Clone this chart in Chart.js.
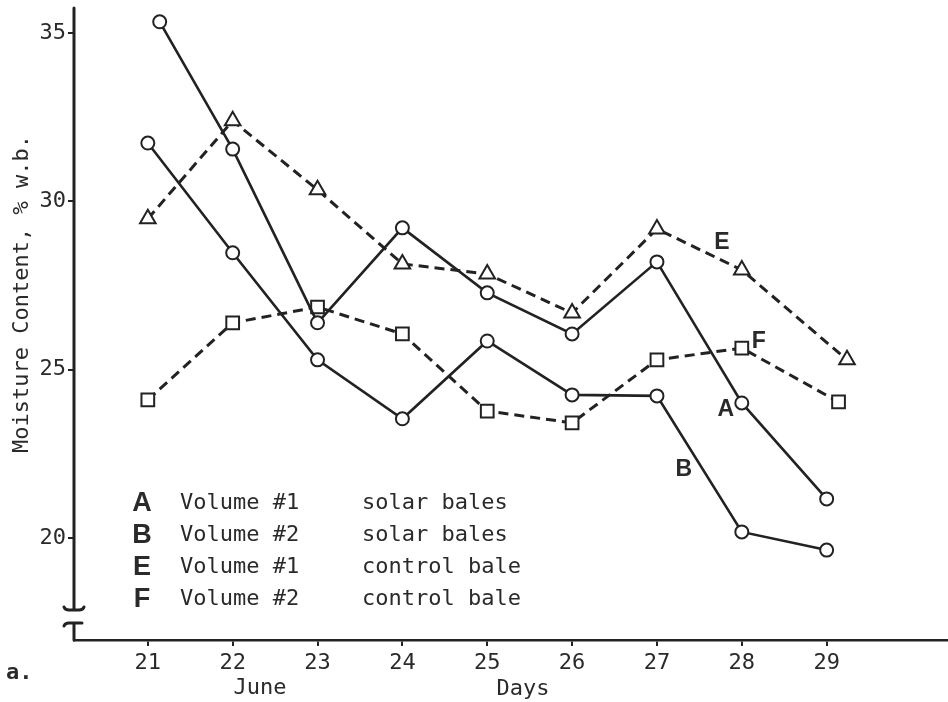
<!DOCTYPE html>
<html>
<head>
<meta charset="utf-8">
<title>Moisture Content, % w.b.</title>
<script src="https://cdn.jsdelivr.net/npm/chart.js@4.4.0/dist/chart.umd.min.js"></script>
<style>
  html, body { margin: 0; padding: 0; background: #fff; }
  canvas { display: block; }
</style>
</head>
<body>
<canvas id="moistureChart" width="948" height="702"></canvas>
<script>
// June days (x) for each curve
var days  = [21, 22, 23, 24, 25, 26, 27, 28, 29];
var daysA = [21.14, 22, 23, 24, 25, 26, 27, 28, 29];
var daysE = [21, 22, 23, 24, 25, 26, 27, 28, 29.24];
var daysF = [21, 22, 23, 24, 25, 26, 27, 28, 29.14];

// moisture content, % w.b.
var solarVol1   = [35.33, 31.55, 26.39, 29.21, 27.28, 26.06, 28.20, 24.01, 21.16]; // A
var solarVol2   = [31.73, 28.47, 25.29, 23.54, 25.85, 24.25, 24.22, 20.18, 19.64]; // B
var controlVol1 = [29.48, 32.39, 30.34, 28.14, 27.84, 26.68, 29.18, 27.96, 25.29]; // E
var controlVol2 = [24.10, 26.39, 26.86, 26.06, 23.77, 23.42, 25.29, 25.64, 24.04]; // F

var xTicks = days;
var yTicks = [20, 25, 30, 35];

var legendLetters = ['A', 'B', 'E', 'F'];
var legendVolumes = ['Volume #1', 'Volume #2', 'Volume #1', 'Volume #2'];
var legendBales   = ['solar bales', 'solar bales', 'control bale', 'control bale'];

var ink = '#222';
var mono = 'DejaVu Sans Mono';

function points(xs, ys) {
    return ys.map(function(v, i) { return {x: xs[i], y: v}; });
}

/**
 *  Letters written next to the curves: dataset, point, offset.
 */
var curveTags = [
    {text: 'A', ds: 0, pt: 7, dx: -16, dy: 7},
    {text: 'B', ds: 1, pt: 7, dx: -58, dy: -62},
    {text: 'E', ds: 2, pt: 7, dx: -20, dy: -27},
    {text: 'F', ds: 3, pt: 7, dx: 17, dy: -6}
];

/**
 *  Draws the broken y axis, the titles, the key and the curve letters.
 */
var paperPlugin = {
    id: 'paper',
    beforeDraw: function(chart) {
        var ctx = chart.ctx;
        ctx.save();
        ctx.fillStyle = '#fff';
        ctx.fillRect(0, 0, chart.width, chart.height);
        ctx.restore();
    },
    afterDraw: function(chart) {
        var ctx = chart.ctx;
        var area = chart.chartArea;
        var x = area.left;
        var b1 = area.bottom - 30;
        var b2 = area.bottom - 17;
        ctx.save();
        ctx.strokeStyle = ink;
        ctx.lineWidth = 3;
        ctx.lineCap = 'round';
        // upper part of the y axis with its break foot
        ctx.beginPath();
        ctx.moveTo(x, area.top);
        ctx.lineTo(x, b1);
        ctx.moveTo(x - 10, b1 - 3);
        ctx.quadraticCurveTo(x - 9, b1, x - 5, b1);
        ctx.lineTo(x + 5, b1);
        ctx.quadraticCurveTo(x + 9, b1, x + 10, b1 - 3);
        ctx.stroke();
        // lower stub down to the x axis
        ctx.beginPath();
        ctx.moveTo(x - 10, b2 + 3);
        ctx.quadraticCurveTo(x - 9, b2, x - 5, b2);
        ctx.lineTo(x + 8, b2);
        ctx.moveTo(x, b2);
        ctx.lineTo(x, area.bottom);
        ctx.stroke();

        ctx.fillStyle = '#2a2a2a';
        ctx.font = '22px "' + mono + '"';
        ctx.textBaseline = 'middle';

        // y title
        ctx.save();
        ctx.translate(22, 294);
        ctx.rotate(-Math.PI / 2);
        ctx.textAlign = 'center';
        ctx.fillText('Moisture Content, % w.b.', 0, 0);
        ctx.restore();

        // x titles
        ctx.textAlign = 'center';
        ctx.fillText('June', 260, 688);
        ctx.fillText('Days', 523, 689);
        ctx.textAlign = 'left';
        ctx.font = 'bold 22px "' + mono + '"';
        ctx.fillText('a.', 6, 673);

        // key
        for (var i = 0; i < legendLetters.length; i++) {
            var y = 503 + i * 32;
            ctx.font = 'bold 27px "Liberation Sans"';
            ctx.textAlign = 'center';
            ctx.fillText(legendLetters[i], 142, y + 1);
            ctx.font = '22px "' + mono + '"';
            ctx.textAlign = 'left';
            ctx.fillText(legendVolumes[i], 180, y);
            ctx.fillText(legendBales[i], 362, y);
        }

        // curve letters
        ctx.font = 'bold 23px "Liberation Sans"';
        ctx.textAlign = 'center';
        curveTags.forEach(function(t) {
            var el = chart.getDatasetMeta(t.ds).data[t.pt];
            ctx.fillText(t.text, el.x + t.dx, el.y + t.dy);
        });
        ctx.restore();
    }
};

function series(label, xs, ys, style, radius, dashed) {
    return {
        label: label,
        data: points(xs, ys),
        borderColor: ink,
        borderWidth: dashed ? 3 : 2.6,
        borderDash: dashed ? [10, 6] : [],
        tension: 0,
        pointStyle: style,
        pointRadius: radius,
        pointBorderWidth: 2,
        pointBorderColor: ink,
        pointBackgroundColor: '#fff',
        fill: false
    };
}

var moistureChart = new Chart(document.getElementById('moistureChart').getContext('2d'), {
    type: 'line',
    data: {
        datasets: [
            series('A Volume #1 solar bales', daysA, solarVol1, 'circle', 6.5, false),
            series('B Volume #2 solar bales', days, solarVol2, 'circle', 6.5, false),
            series('E Volume #1 control bale', daysE, controlVol1, 'triangle', 9, true),
            series('F Volume #2 control bale', daysF, controlVol2, 'rect', 9, true)
        ]
    },
    options: {
        responsive: false,
        animation: false,
        layout: { autoPadding: false, padding: { top: 8, right: 0, bottom: 0, left: 0 } },
        plugins: {
            legend: { display: false },
            tooltip: { enabled: false }
        },
        scales: {
            x: {
                type: 'linear',
                min: 20.13,
                max: 30.43,
                afterBuildTicks: function(s) { s.ticks = xTicks.map(function(v) { return {value: v}; }); },
                afterFit: function(s) { s.height = 62; s.paddingLeft = 0; s.paddingRight = 0; },
                grid: { drawOnChartArea: false, drawTicks: true, tickLength: 6, color: ink, lineWidth: 2 },
                border: { display: true, color: ink, width: 2.5 },
                ticks: {
                    font: { family: mono, size: 22 },
                    color: '#2a2a2a',
                    padding: 4,
                    maxRotation: 0,
                    autoSkip: false
                }
            },
            y: {
                min: 16.97,
                max: 35.74,
                afterBuildTicks: function(s) { s.ticks = yTicks.map(function(v) { return {value: v}; }); },
                afterFit: function(s) { s.width = 74; s.paddingTop = 0; s.paddingBottom = 0; },
                grid: { drawOnChartArea: false, drawTicks: true, tickLength: 6, color: ink, lineWidth: 2 },
                border: { display: false },
                ticks: {
                    font: { family: mono, size: 22 },
                    color: '#2a2a2a',
                    padding: 2
                }
            }
        }
    },
    plugins: [paperPlugin]
});
</script>
</body>
</html>
